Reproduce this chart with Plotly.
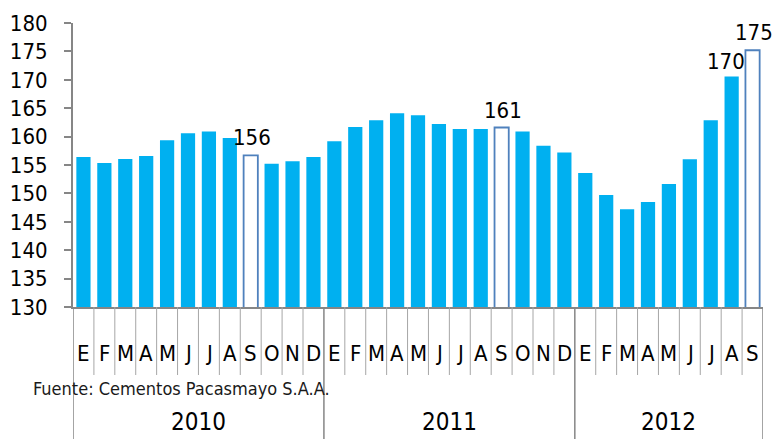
import math
import plotly.graph_objects as go

# ---- data ----
years = ["2010", "2011", "2012"]
months_per_year = [12, 12, 9]
month_letters = ["E", "F", "M", "A", "M", "J", "J", "A", "S", "O", "N", "D"]
values = [
    156.4, 155.35, 156.05, 156.6, 159.35, 160.6, 160.9, 159.75, 156.7, 155.2, 155.65, 156.4,
    159.2, 161.7, 162.9, 164.1, 163.75, 162.2, 161.35, 161.35, 161.6, 160.9, 158.4, 157.2,
    153.6, 149.7, 147.2, 148.5, 151.65, 156.0, 162.9, 170.6, 175.2,
]
highlight_idx = [8, 20, 32]
label_idx = [8, 20, 31, 32]
y_ticks = [130, 135, 140, 145, 150, 155, 160, 165, 170, 175, 180]
source_text = "Fuente: Cementos Pacasmayo S.A.A."

# ---- derived ----
months = []
for n in months_per_year:
    months += month_letters[:n]
N = len(values)
xs = list(range(N))

W, H = 773, 439
ML, MR, MT, MB = 73, 10, 23, 132
PW, PH = W - ML - MR, H - MT - MB


def py(pix):
    return (H - MB - pix) / PH


def px(pix):
    return (pix - ML) / PW


FONT = "DejaVu Sans Condensed, Liberation Sans Narrow, sans-serif"
BLUE = "#00B0F0"
EDGE = "#4F81BD"
GRID = "#A6A6A6"
AXIS = "#868686"

fill = ["white" if i in highlight_idx else BLUE for i in xs]
line_c = [EDGE if i in highlight_idx else BLUE for i in xs]
line_w = [1.8 if i in highlight_idx else 0 for i in xs]

fig = go.Figure()
fig.add_trace(go.Bar(
    x=xs, y=values, width=0.68,
    marker=dict(color=fill, line=dict(color=line_c, width=line_w)),
    hoverinfo="skip",
))

annotations = []
for i in label_idx:
    annotations.append(dict(
        x=i, y=values[i], xref="x", yref="y", text=str(int(math.floor(values[i]))),
        showarrow=False, yanchor="bottom", yshift=3 if i != 31 else 0,
        xshift=-6 if i == 31 else 1,
        font=dict(family=FONT, size=22, color="#000000"),
    ))

# month labels
for i, m in enumerate(months):
    annotations.append(dict(
        x=i, y=py(353), xref="x", yref="paper", text=m, showarrow=False,
        yanchor="middle", font=dict(family=FONT, size=22, color="#000000"),
    ))

# year labels and separators
shapes = []
start = 0
for yr, n in zip(years, months_per_year):
    annotations.append(dict(
        x=start + (n - 1) / 2, y=py(422), xref="x", yref="paper", text=yr,
        showarrow=False, yanchor="middle",
        font=dict(family=FONT, size=24, color="#000000"),
    ))
    start += n

bounds = [0]
for n in months_per_year:
    bounds.append(bounds[-1] + n)
for k in range(N + 1):
    if k in bounds:
        continue
    shapes.append(dict(type="line", xref="x", yref="paper", x0=k - 0.5, x1=k - 0.5,
                       y0=0, y1=py(375), line=dict(color=GRID, width=1)))
for k in bounds:
    shapes.append(dict(type="line", xref="x", yref="paper", x0=k - 0.5, x1=k - 0.5,
                       y0=0, y1=py(439), line=dict(color=AXIS, width=1.5)))

annotations.append(dict(
    x=px(31), y=py(388), xref="paper", yref="paper", text=source_text,
    showarrow=False, xanchor="left", yanchor="middle",
    font=dict(family=FONT, size=18, color="#1a1a1a"),
))

fig.update_layout(
    width=W, height=H, margin=dict(l=ML, r=MR, t=MT, b=MB, autoexpand=False),
    plot_bgcolor="white", paper_bgcolor="white", showlegend=False,
    annotations=annotations, shapes=shapes,
    xaxis=dict(range=[-0.5, N - 0.5], showticklabels=False, showgrid=False,
               zeroline=False, showline=True, linecolor=AXIS, linewidth=2,
               ticks="", fixedrange=True, automargin=False),
    yaxis=dict(range=[130, 180], tickvals=y_ticks, showgrid=False, zeroline=False,
               showline=True, linecolor=AXIS, linewidth=2, ticks="outside",
               ticklen=7, tickcolor=AXIS, tickwidth=2, ticklabelstandoff=12,
               tickfont=dict(family=FONT, size=22, color="#000000"),
               fixedrange=True, automargin=False),
)

fig.write_html("out.html", config={"displayModeBar": False},
               post_script="document.body.style.margin='0';")
